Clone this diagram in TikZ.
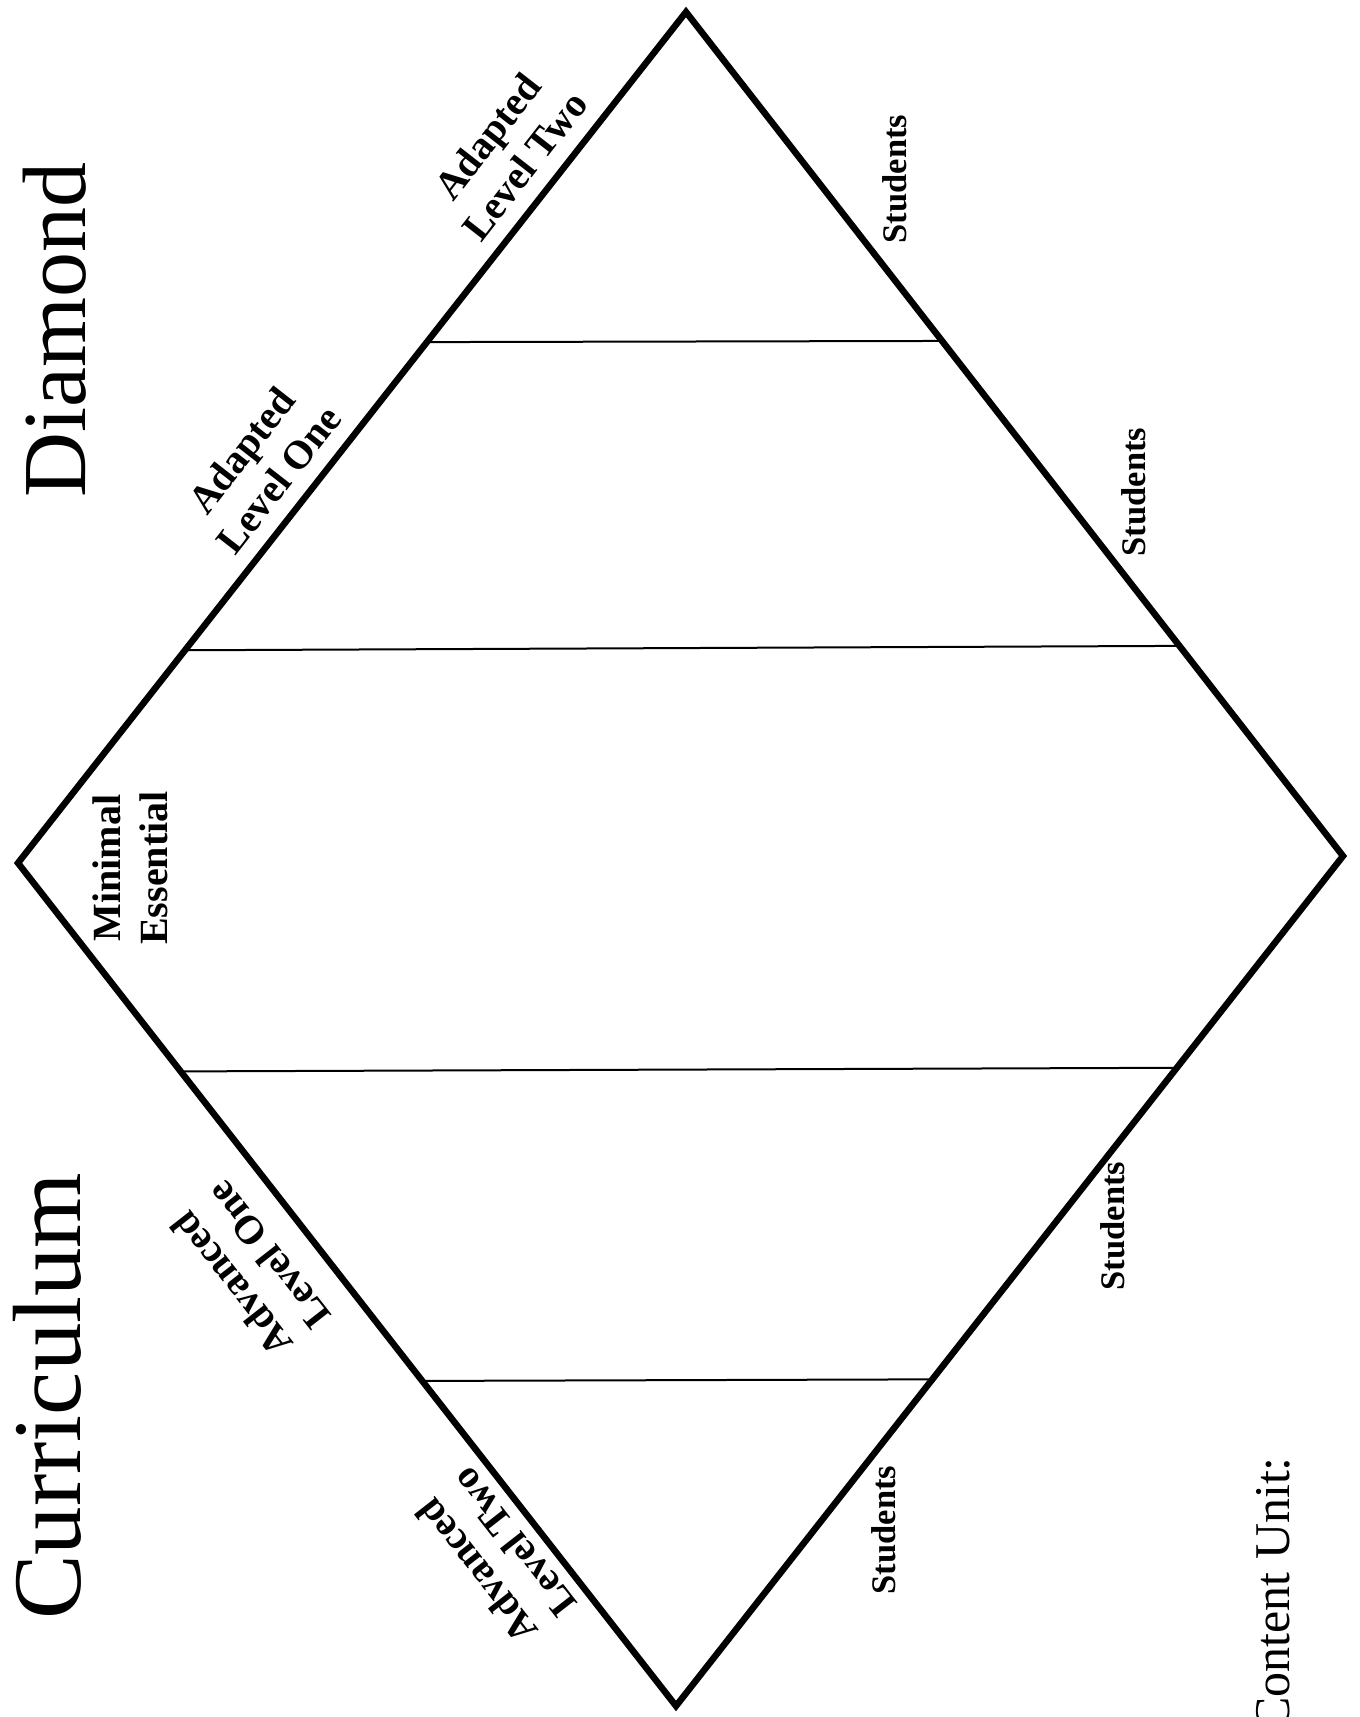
\documentclass[tikz,border=0pt]{standalone}
\usepackage{fontspec}
\setmainfont{Liberation Serif}
\begin{document}
\begin{tikzpicture}[x=1pt,y=-1pt,
  edge/.style={line width=6.5pt, line join=miter},
  divider/.style={line width=2pt},
  lbl/.style={font=\bfseries\fontsize{40}{47}\selectfont, align=center, inner sep=0pt},
  stud/.style={font=\bfseries\fontsize{34.5}{40}\selectfont, rotate=90, inner sep=0pt},
  title/.style={rotate=90, inner sep=0pt, anchor=base west},
]
\useasboundingbox (0,0) rectangle (1360,1717);
\fill[white] (0,0) rectangle (1360,1717);
% diamond vertices
\coordinate (T) at (686,12);
\coordinate (L) at (18,863);
\coordinate (R) at (1343,856);
\coordinate (B) at (676,1706);
\draw[edge] (T) -- (R) -- (B) -- (L) -- cycle;
% divider guides
\coordinate (h1a) at (0,343);  \coordinate (h1b) at (1360,340);
\coordinate (h2a) at (0,651);  \coordinate (h2b) at (1360,645);
\coordinate (h3a) at (0,1072); \coordinate (h3b) at (1360,1067);
\coordinate (h4a) at (0,1382); \coordinate (h4b) at (1360,1378);
\coordinate (d1l) at (intersection of T--L and h1a--h1b);
\coordinate (d1r) at (intersection of T--R and h1a--h1b);
\coordinate (d2l) at (intersection of T--L and h2a--h2b);
\coordinate (d2r) at (intersection of T--R and h2a--h2b);
\coordinate (d3l) at (intersection of B--L and h3a--h3b);
\coordinate (d3r) at (intersection of B--R and h3a--h3b);
\coordinate (d4l) at (intersection of B--L and h4a--h4b);
\coordinate (d4r) at (intersection of B--R and h4a--h4b);
\draw[divider] (d1l) -- (d1r);
\draw[divider] (d2l) -- (d2r);
\draw[divider] (d3l) -- (d3r);
\draw[divider] (d4l) -- (d4r);
% titles
\node[title, font=\fontsize{90}{96}\selectfont] (diamond) at (85,498) {Diamond};
\node[title, font=\fontsize{97}{104}\selectfont] (curr) at (80,1620) {Curriculum};
\node[rotate=90, anchor=base east, inner sep=0pt, font=\fontsize{50}{60}\selectfont] (unit) at (1289,1457) {Content Unit:};
% edge labels
\node[lbl, rotate=52] (adtwo) at (506,151) {Adapted\\Level Two};
\node[lbl, rotate=52] (adone) at (260,465) {Adapted\\Level One};
\node[lbl, rotate=90] (mines) at (130,868) {Minimal\\Essential};
\node[lbl, rotate=128] (advone) at (250,1270) {Advanced\\Level One};
\node[lbl, rotate=128] (advtwo) at (495,1557) {Advanced\\Level Two};
% students
\node[stud] (s1) at (895,179) {Students};
\node[stud] (s2) at (1134,492) {Students};
\node[stud] (s3) at (1113,1226) {Students};
\node[stud] (s4) at (884,1530) {Students};
\end{tikzpicture}
\end{document}
